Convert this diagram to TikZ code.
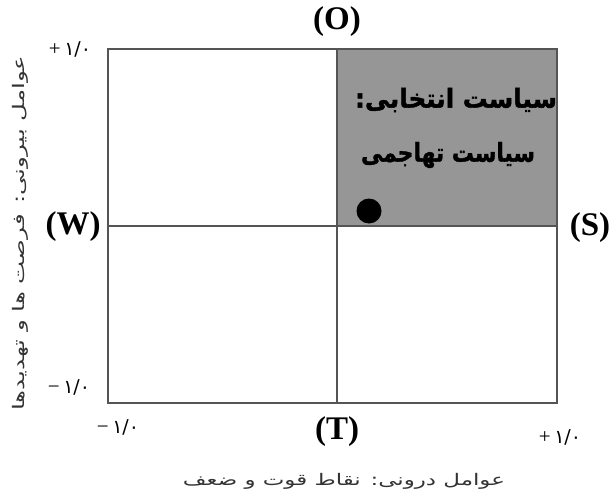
\documentclass[tikz,border=0pt]{standalone}
\usepackage{fontspec}
\setmainfont{Liberation Serif}
\newfontfamily\fa[Script=Arabic]{DejaVu Sans}
\newfontfamily\fabold[Script=Arabic,FakeBold=1.5]{DejaVu Sans Bold}
\TeXXeTstate=1
\definecolor{framegray}{HTML}{555555}
\definecolor{quadgray}{HTML}{969696}
\definecolor{labelgray}{HTML}{333333}
\tikzset{
  frameline/.style={draw=framegray, line width=2.8pt},
  axisline/.style={draw=framegray, line width=2.4pt},
  letterlbl/.style={font=\fontsize{33}{36}\selectfont\bfseries, inner sep=0pt},
  numlbl/.style={font=\fontsize{21}{23}\selectfont, inner sep=0pt},
  quadtxt/.style={font=\fabold\fontsize{26}{30}\selectfont, inner sep=0pt},
  axislbl/.style={font=\fa\fontsize{16}{18}\selectfont, text=labelgray, inner sep=0pt}
}
\newcommand{\numtxt}[1]{#1\,{\fa\fontsize{19}{21}\selectfont ۱/۰}}
\begin{document}
\begin{tikzpicture}[x=1pt,y=-1pt]
\useasboundingbox (0,0) rectangle (612,500);
\coordinate (tl) at (108,49);
\coordinate (br) at (557,403);
\coordinate (tc) at (337,49);
\coordinate (bc) at (337,403);
\coordinate (ml) at (108,226);
\coordinate (mr) at (557,226);
\fill[quadgray] (tc) rectangle (mr);
\draw[axisline] (tc) -- (bc);
\draw[axisline] (ml) -- (mr);
\draw[frameline] (tl) rectangle (br);
\fill[black] (369,211) circle (12.5);
\node[letterlbl] (O) at (337,22) {(O)};
\node[letterlbl] (W) at (73,227) {(W)};
\node[letterlbl] (S) at (590,228) {(S)};
\node[letterlbl] (T) at (337,432) {(T)};
\node[numlbl] (n1) at (70,49) {\numtxt{+}};
\node[numlbl] (n2) at (69,387) {\numtxt{−}};
\node[numlbl] (n3) at (118,427) {\numtxt{−}};
\node[numlbl] (n4) at (560,437) {\numtxt{+}};
\node[quadtxt] (q1) at (456,100) {\resizebox{202pt}{\height}{\beginR سیاست انتخابی:\endR}};
\node[quadtxt] (q2) at (448,155) {\resizebox{174pt}{\height}{\beginR سیاست تهاجمی\endR}};
\node[axislbl] (bx) at (344,481) {\resizebox{322pt}{\height}{\beginR عوامل درونی: نقاط قوت و ضعف\endR}};
\node[axislbl, rotate=90] (lx) at (20,233) {\resizebox{355pt}{\height}{\beginR عوامل بیرونی: فرصت ها و تهدیدها\endR}};
\end{tikzpicture}
\end{document}
